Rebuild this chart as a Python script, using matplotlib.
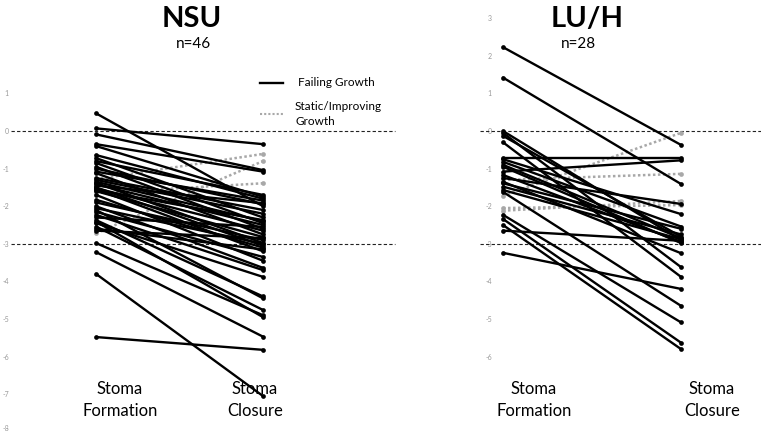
import matplotlib
matplotlib.use("Agg")
import matplotlib.pyplot as plt
from matplotlib.lines import Line2D
from matplotlib.transforms import blended_transform_factory

plt.rcParams['font.family'] = ['Lato', 'DejaVu Sans']

W, H = 761, 433

# ---------------- data ----------------
timepoints = ["Stoma\nFormation", "Stoma\nClosure"]

nsu_fail_start = [0.47, 0.07, -0.09, -0.35, -0.40, -0.64, -0.72, -0.80, -0.85, -0.95,
                  -1.08, -1.12, -1.25, -1.30, -1.35, -1.38, -1.42, -1.45, -1.50, -1.52,
                  -1.55, -1.57, -1.60, -1.70, -1.83, -1.90, -2.00, -2.05, -2.10, -2.15,
                  -2.23, -2.30, -2.37, -2.41, -2.45, -2.54, -2.60, -2.65, -2.98, -3.22,
                  -3.80, -5.48, -1.00]
nsu_fail_end = [-2.00, -0.35, -1.04, -1.08, -1.75, -1.80, -2.30, -1.70, -2.45, -2.60,
                -1.85, -2.75, -2.10, -2.20, -2.40, -2.98, -2.50, -1.92, -3.05, -2.65,
                -3.20, -2.37, -2.82, -3.45, -3.10, -2.90, -3.64, -3.00, -4.45, -3.35,
                -3.70, -2.55, -4.40, -4.95, -3.88, -4.76, -3.15, -2.85, -4.90, -5.47,
                -7.05, -5.82, -1.95]
nsu_stat_start = [-1.28, -2.72, -1.65]
nsu_stat_end = [-0.61, -0.80, -1.39]

luh_fail_start = [2.23, 1.42, 0.00, -0.05, -0.13, -0.30, -0.72, -0.75, -0.82, -0.90,
                  -0.95, -1.08, -1.17, -1.25, -1.35, -1.39, -1.48, -1.57, -1.62, -2.23,
                  -2.34, -2.50, -2.65, -3.24]
luh_fail_end = [-0.37, -1.41, -2.90, -3.62, -2.81, -3.88, -0.72, -2.21, -2.54, -2.85,
                -2.98, -0.78, -2.95, -1.94, -3.25, -2.60, -2.75, -2.88, -4.65, -5.09,
                -5.63, -5.80, -2.92, -4.20]
luh_stat_start = [-1.72, -1.30, -2.12, -2.05]
luh_stat_end = [-0.05, -1.14, -1.86, -1.97]

nsu_ticks = [1, 0, -1, -2, -3, -4, -5, -6, -7, -8]
luh_ticks = [3, 2, 1, 0, -1, -2, -3, -4, -5, -6]
ref_levels = [0, -3]

# ---------------- layout ----------------
fig = plt.figure(figsize=(W / 100, H / 100), dpi=100)
YLIM = (-(H - 131) / 37.6, 131 / 37.6)


def fx(px):
    return px / W


def fy(py):
    return 1 - py / H


def make_ax(left_px, right_px, start_px, unit_px):
    ax = fig.add_axes([fx(left_px), 0, (right_px - left_px) / W, 1])
    ax.set_xlim(-(start_px - left_px) / unit_px, (right_px - start_px) / unit_px)
    ax.set_ylim(*YLIM)
    for s in ax.spines.values():
        s.set_visible(False)
    ax.set_xticks([])
    ax.patch.set_alpha(0)
    return ax


axL = make_ax(11, 395, 96, 167)
axR = make_ax(494, 761, 503, 178)

for ax, ticks in ((axL, nsu_ticks), (axR, luh_ticks)):
    ax.set_yticks(ticks)
    ax.set_yticklabels([str(t) for t in ticks])
    ax.tick_params(axis='y', length=0, pad=1.5, labelsize=5, labelcolor='#999999')

# keep the bottom-most label inside the canvas
axL.get_yticklabels()[-1].set_verticalalignment('bottom')

# reference dashed lines
for ax, x0, x1 in ((axL, 11, 395), (axR, 480, 761)):
    tr = blended_transform_factory(fig.transFigure, ax.transData)
    for lv in ref_levels:
        line = Line2D([fx(x0), fx(x1)], [lv, lv], color='#222222', lw=0.8,
                      linestyle=(0, (3, 2)), transform=tr, clip_on=False)
        ax.add_line(line)


def draw_pairs(ax, starts, ends, color, ls, lw, z):
    for s, e in zip(starts, ends):
        ax.plot([0, 1], [s, e], color=color, linestyle=ls, lw=lw, marker='o',
                markersize=3.4, markeredgewidth=0, zorder=z, solid_capstyle='round')


draw_pairs(axL, nsu_stat_start, nsu_stat_end, '#a8a8a8', (0, (1, 1)), 1.8, 2)
draw_pairs(axL, nsu_fail_start, nsu_fail_end, 'black', '-', 1.7, 3)
draw_pairs(axR, luh_stat_start, luh_stat_end, '#a8a8a8', (0, (1, 1)), 1.8, 2)
draw_pairs(axR, luh_fail_start, luh_fail_end, 'black', '-', 1.7, 3)

# titles
fig.text(fx(192), fy(19), "NSU", ha='center', va='center', fontsize=21, fontweight='bold')
fig.text(fx(193), fy(44), "n=46", ha='center', va='center', fontsize=11)
fig.text(fx(587), fy(19), "LU/H", ha='center', va='center', fontsize=21, fontweight='bold')
fig.text(fx(578), fy(44), "n=28", ha='center', va='center', fontsize=11)

# x labels
for xc, lab in ((120, timepoints[0]), (255, timepoints[1]),
                (534, timepoints[0]), (712, timepoints[1])):
    fig.text(fx(xc), fy(400), lab, ha='center', va='center', fontsize=12,
             linespacing=1.4)

# legend
fig.add_artist(Line2D([fx(260), fx(283)], [fy(83), fy(83)], color='black', lw=1.7))
fig.text(fx(298), fy(83), "Failing Growth", ha='left', va='center', fontsize=8.5)
fig.add_artist(Line2D([fx(260), fx(283)], [fy(114), fy(114)], color='#a8a8a8', lw=1.5,
                      linestyle=(0, (1, 1))))
fig.text(fx(295), fy(114), "Static/Improving\nGrowth", ha='left', va='center', fontsize=8.5,
         linespacing=1.4)

fig.savefig("out.png", dpi=100)
